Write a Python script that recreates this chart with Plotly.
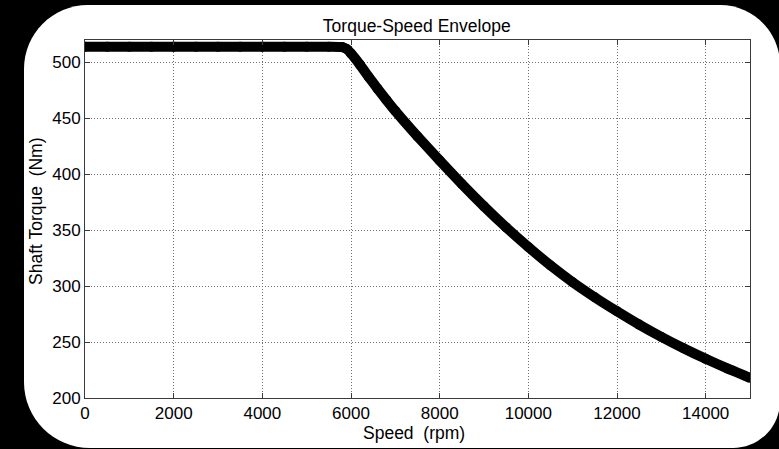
import plotly.graph_objects as go

# Torque-speed envelope of the drive (rpm, Nm)
speed_rpm = [0, 500, 1000, 1500, 2000, 2500, 3000, 3500, 4000, 4500, 5000, 5500,
             5800, 5900, 6000, 6200, 6400, 6600, 6800, 7000, 7500, 8000, 8500,
             9000, 9500, 10000, 10500, 11000, 11500, 12000, 12500, 13000,
             13500, 14000, 14500, 15000]
shaft_torque_nm = [514, 514, 514, 514, 514, 514, 514, 514, 514, 514, 514, 514,
                   513.7, 512, 508, 498, 487, 476.5, 466.3, 456.5, 433.8, 412.3,
                   391.3, 371.3, 352.5, 335, 318.5, 303.5, 290, 277.5, 265.6,
                   254.6, 244.4, 235, 226.2, 218]

x_ticks = [0, 2000, 4000, 6000, 8000, 10000, 12000, 14000]
y_ticks = [200, 250, 300, 350, 400, 450, 500]

W, H = 779, 449
ML, MR, MT, MB = 85, 29, 40, 51
PW, PH = W - ML - MR, H - MT - MB


def px(x, y):
    """Pixel position -> paper coordinates."""
    return (x - ML) / PW, (H - MB - y) / PH


def card_path(left, top, right, bottom, r_tl, r_tr, r_br, r_bl):
    k = 0.5523
    pts = []

    def P(x, y):
        a, b = px(x, y)
        return f"{a:.5f},{b:.5f}"

    pts.append("M" + P(left + r_tl, top))
    pts.append("L" + P(right - r_tr, top))
    pts.append("C" + P(right - r_tr + k * r_tr, top) + " " + P(right, top + r_tr - k * r_tr) + " " + P(right, top + r_tr))
    pts.append("L" + P(right, bottom - r_br))
    pts.append("C" + P(right, bottom - r_br + k * r_br) + " " + P(right - r_br + k * r_br, bottom) + " " + P(right - r_br, bottom))
    pts.append("L" + P(left + r_bl, bottom))
    pts.append("C" + P(left + r_bl - k * r_bl, bottom) + " " + P(left, bottom - r_bl + k * r_bl) + " " + P(left, bottom - r_bl))
    pts.append("L" + P(left, top + r_tl))
    pts.append("C" + P(left, top + r_tl - k * r_tl) + " " + P(left + r_tl - k * r_tl, top) + " " + P(left + r_tl, top))
    pts.append("Z")
    return " ".join(pts)


FONT = "Liberation Sans, Arial, Helvetica, sans-serif"
LABEL_FONT = dict(family=FONT, size=17.5, color="black")

fig = go.Figure()
fig.add_trace(go.Scatter(
    x=speed_rpm, y=shaft_torque_nm, mode="lines+markers",
    line=dict(color="black", width=10, shape="spline", smoothing=0.5),
    marker=dict(color="black", size=10, symbol="circle"),
    showlegend=False, hoverinfo="x+y",
))

axis_common = dict(
    showline=True, linecolor="#3a3a3a", linewidth=1, mirror="ticks",
    ticks="inside", ticklen=5, tickwidth=1, tickcolor="#3a3a3a",
    showgrid=True, gridcolor="#707070", gridwidth=1, griddash="1px,2px",
    zeroline=False, tickfont=dict(family=FONT, size=17, color="black"),
)

fig.update_xaxes(range=[0, 15000], tickvals=x_ticks,
                 ticktext=[str(v) for v in x_ticks], **axis_common)
fig.update_yaxes(range=[200, 520], tickvals=y_ticks,
                 ticktext=[str(v) for v in y_ticks], **axis_common)

xt, yt = px(414, 433), px(36, 211)
fig.update_layout(
    width=W, height=H,
    margin=dict(l=ML, r=MR, t=MT, b=MB, autoexpand=False),
    paper_bgcolor="black", plot_bgcolor="white",
    title=dict(text="Torque-Speed Envelope", x=0.535, xanchor="center",
               y=1 - 26 / H, yanchor="middle", font=LABEL_FONT),
    annotations=[
        dict(text="Speed  (rpm)", xref="paper", yref="paper",
             x=xt[0], y=xt[1], xanchor="center", yanchor="middle",
             showarrow=False, font=LABEL_FONT),
        dict(text="Shaft Torque  (Nm)", textangle=-90,
             xref="paper", yref="paper", x=yt[0], y=yt[1],
             xanchor="center", yanchor="middle", showarrow=False,
             font=LABEL_FONT),
    ],
    shapes=[dict(type="path", xref="paper", yref="paper", layer="below",
                 path=card_path(24, 5, 780, 448, 64, 60, 47, 66),
                 fillcolor="white", line=dict(width=0))],
)

fig.write_html("out.html")
